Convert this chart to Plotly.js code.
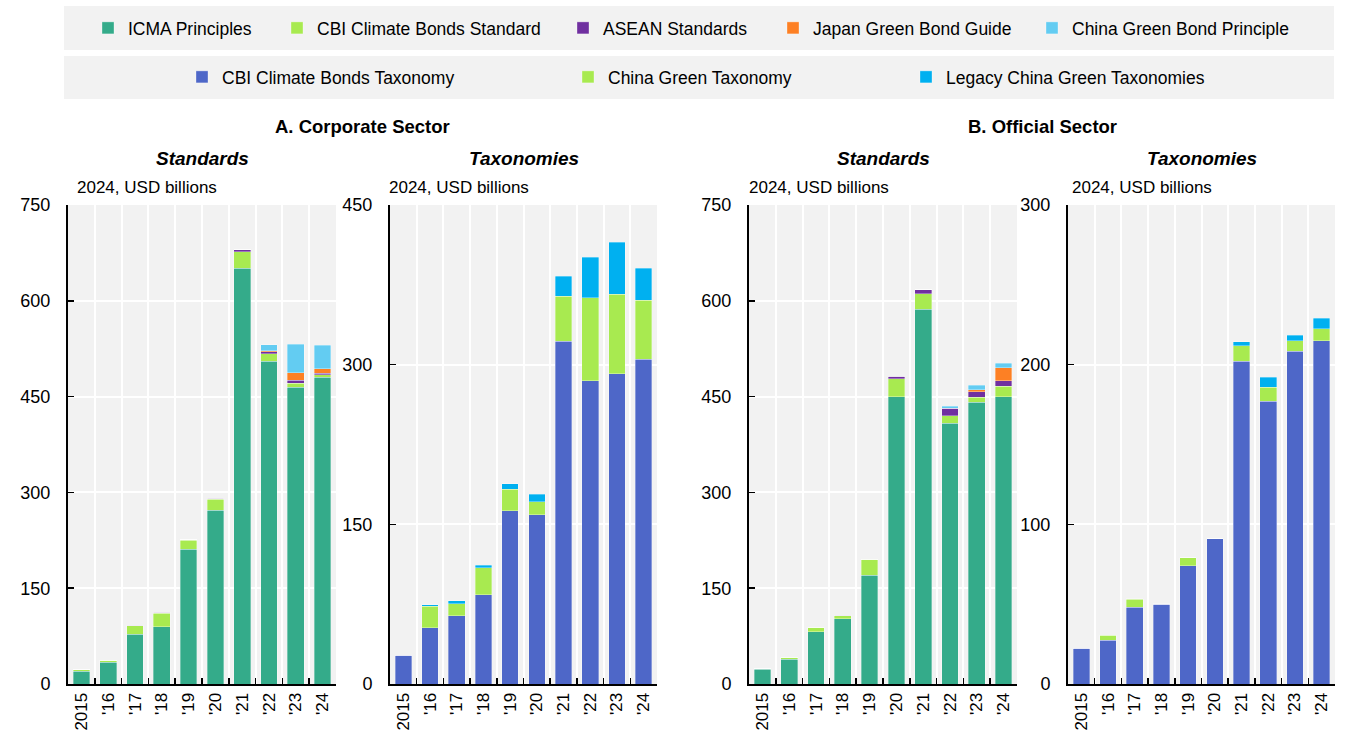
<!DOCTYPE html>
<html>
<head>
<meta charset="utf-8">
<script src="https://cdn.plot.ly/plotly-3.0.1.min.js"></script>
<style>
  html, body { margin: 0; padding: 0; background: #ffffff; }
  #chart { width: 1352px; height: 731px; }
</style>
</head>
<body>
<div id="chart"></div>
<script>
// Green bond issuance by framework, 2024 USD billions
const years = ['2015', "'16", "'17", "'18", "'19", "'20", "'21", "'22", "'23", "'24"];

// A. Corporate sector — standards
const corpIcma     = [20, 34, 78, 90, 211, 272, 651, 505, 465, 480];
const corpCbiStd   = [2, 3, 13, 21, 14, 17, 26, 12, 6, 4];
const corpAsean    = [0, 0, 1, 1, 1, 2, 3, 3, 4.5, 2.5];
const corpJapan    = [0, 0, 0, 0, 0, 0, 0, 2, 11.5, 7];
const corpChinaGbp = [0, 0, 0, 0, 0, 0, 0, 9, 45, 37];

// A. Corporate sector — taxonomies
const corpCbiTax     = [27, 53, 64, 84, 163, 159, 322, 285, 291.5, 305];
const corpChinaGreen = [0, 20, 11.5, 25, 20, 12, 42.5, 78, 74.5, 55.5];
const corpLegacy     = [0, 1.5, 2.5, 2.5, 5, 7.5, 18.5, 38, 49, 30];

// B. Official sector — standards
const offIcma     = [23, 39, 82, 102, 170.5, 449.5, 587, 408.5, 441, 449.5];
const offCbiStd   = [1, 2.7, 7, 5, 25, 28.5, 24, 11.5, 8, 17];
const offAsean    = [0, 0, 0, 1, 0, 4, 6, 11.5, 8.5, 8];
const offJapan    = [0, 0, 0, 0, 0, 0, 0, 0.5, 3.5, 21];
const offChinaGbp = [0, 0, 0, 0, 0, 0, 0, 3, 7, 7];

// B. Official sector — taxonomies
const offCbiTax     = [22.3, 27.5, 48, 50, 74, 91, 202, 177, 208.5, 215];
const offChinaGreen = [0, 3, 5, 0, 5, 0, 10, 9, 6.5, 7.5];
const offLegacy     = [0, 0, 0.3, 0.3, 0, 0, 2.3, 6, 3.5, 6.5];

const standardNames = ['ICMA Principles', 'CBI Climate Bonds Standard', 'ASEAN Standards',
                       'Japan Green Bond Guide', 'China Green Bond Principle'];
const taxonomyNames = ['CBI Climate Bonds Taxonomy', 'China Green Taxonomy', 'Legacy China Green Taxonomies'];

const standardColors = ['#34ab8a', '#a8ea50', '#7030a0', '#fd8024', '#63ccf2'];
const taxonomyColors = ['#4e67c8', '#a8ea50', '#00b0f0'];

const FONT = '"Liberation Sans", Arial, sans-serif';
const W = 1352, H = 731;
const px = v => v / W;
const py = v => (H - v) / H;

const traces = [];
function addGroup(seriesList, names, colors, xa, ya, legendIds) {
  seriesList.forEach((vals, i) => {
    traces.push({
      type: 'bar',
      x: years,
      y: vals,
      name: names[i],
      xaxis: xa,
      yaxis: ya,
      marker: { color: colors[i], line: { width: 0.6, color: 'rgba(255,255,255,0.55)' } },
      showlegend: !!legendIds,
      legend: legendIds ? legendIds[i] : undefined,
      hoverinfo: 'x+y+name'
    });
  });
}

addGroup([corpIcma, corpCbiStd, corpAsean, corpJapan, corpChinaGbp], standardNames, standardColors,
         'x', 'y', ['legend', 'legend2', 'legend3', 'legend4', 'legend5']);
addGroup([corpCbiTax, corpChinaGreen, corpLegacy], taxonomyNames, taxonomyColors,
         'x2', 'y2', ['legend6', 'legend7', 'legend8']);
addGroup([offIcma, offCbiStd, offAsean, offJapan, offChinaGbp], standardNames, standardColors,
         'x3', 'y3', null);
addGroup([offCbiTax, offChinaGreen, offLegacy], taxonomyNames, taxonomyColors,
         'x4', 'y4', null);

const yDomain = [py(684), py(205)];
const xDomains = [[px(68), px(336)], [px(390), px(657)], [px(749), px(1017)], [px(1068), px(1335)]];

function xAxis(i) {
  return {
    domain: xDomains[i],
    anchor: i === 0 ? 'y' : 'y' + (i + 1),
    type: 'category',
    tickson: 'boundaries',
    ticks: 'inside',
    ticklen: 6,
    tickwidth: 1.5,
    tickcolor: '#000000',
    showline: true,
    linecolor: '#000000',
    linewidth: 2,
    showgrid: true,
    gridcolor: '#ffffff',
    gridwidth: 2,
    tickangle: -90,
    ticklabelstandoff: 0,
    tickfont: { family: FONT, size: 17, color: '#000000' },
    fixedrange: true
  };
}
function yAxis(i, max, step) {
  return {
    domain: yDomain,
    anchor: i === 0 ? 'x' : 'x' + (i + 1),
    range: [0, max],
    tick0: 0,
    dtick: step,
    ticks: 'inside',
    ticklen: 6,
    tickwidth: 1.5,
    tickcolor: '#000000',
    showline: true,
    linecolor: '#000000',
    linewidth: 2,
    showgrid: true,
    gridcolor: '#ffffff',
    gridwidth: 2,
    zeroline: false,
    ticklabelstandoff: 12,
    tickfont: { family: FONT, size: 18, color: '#000000' },
    fixedrange: true
  };
}

// One small legend per entry so each key sits at its own spot in the two grey bands
const legendFont = { family: FONT, size: 17.5, color: '#000000' };
function legendAt(textLeft, rowY) {
  return {
    orientation: 'h',
    x: px(textLeft - 40),
    xanchor: 'left',
    y: py(rowY),
    yanchor: 'middle',
    bgcolor: 'rgba(0,0,0,0)',
    borderwidth: 0,
    font: legendFont,
    itemclick: false,
    itemdoubleclick: false
  };
}

const annText = (text, x, y, size, anchor) => ({
  text: text, x: x, y: y, xref: 'paper', yref: 'paper',
  xanchor: anchor || 'center', yanchor: 'middle', showarrow: false,
  font: { family: FONT, size: size, color: '#000000' }
});

const layout = {
  width: W,
  height: H,
  margin: { l: 0, r: 0, t: 0, b: 0 },
  paper_bgcolor: '#ffffff',
  plot_bgcolor: '#f2f2f2',
  barmode: 'stack',
  bargap: 0.38,
  font: { family: FONT, size: 18, color: '#000000' },
  xaxis: xAxis(0), yaxis: yAxis(0, 750, 150),
  xaxis2: xAxis(1), yaxis2: yAxis(1, 450, 150),
  xaxis3: xAxis(2), yaxis3: yAxis(2, 750, 150),
  xaxis4: xAxis(3), yaxis4: yAxis(3, 300, 100),
  legend:  legendAt(128, 28),
  legend2: legendAt(317, 28),
  legend3: legendAt(603, 28),
  legend4: legendAt(813, 28),
  legend5: legendAt(1072, 28),
  legend6: legendAt(222, 77),
  legend7: legendAt(608, 77),
  legend8: legendAt(946, 77),
  shapes: [
    { type: 'rect', xref: 'paper', yref: 'paper', layer: 'below',
      x0: px(64), x1: px(1334), y0: py(50), y1: py(6),
      fillcolor: '#f2f2f2', line: { width: 0 } },
    { type: 'rect', xref: 'paper', yref: 'paper', layer: 'below',
      x0: px(64), x1: px(1334), y0: py(99), y1: py(56),
      fillcolor: '#f2f2f2', line: { width: 0 } }
  ],
  annotations: [
    annText('<b>A. Corporate Sector</b>', px(362.5), py(126), 18.5),
    annText('<b>B. Official Sector</b>', px(1042), py(126), 18.5),
    annText('<b><i>Standards</i></b>', px(202), py(158), 19),
    annText('<b><i>Taxonomies</i></b>', px(523.5), py(158), 19),
    annText('<b><i>Standards</i></b>', px(883), py(158), 19),
    annText('<b><i>Taxonomies</i></b>', px(1201.5), py(158), 19),
    annText('2024, USD billions', px(75), py(187), 17, 'left'),
    annText('2024, USD billions', px(387), py(187), 17, 'left'),
    annText('2024, USD billions', px(747), py(187), 17, 'left'),
    annText('2024, USD billions', px(1070), py(187), 17, 'left')
  ]
};

Plotly.newPlot('chart', traces, layout, { displayModeBar: false, staticPlot: true });
</script>
</body>
</html>
